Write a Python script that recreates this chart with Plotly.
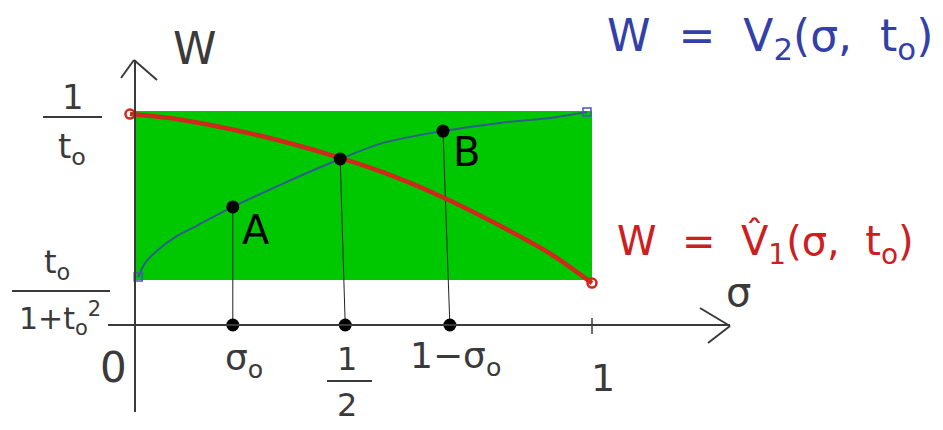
import plotly.graph_objects as go

# page pixels: the html body adds an 8 px offset, so the figure is drawn 8 px smaller
PAGE_W, PAGE_H, OFFSET = 943, 430, 8
X0_PX, X1_PX = 135, 592  # pixel columns of sigma = 0 and sigma = 1
Y0_PX, YS_PX = 325, 215  # pixel row of w = 0, pixels per unit of w

# red curve  w = V1^(sigma, t0)
sigma_red = [-0.011, 0.10, 0.274, 0.449, 0.58, 0.683, 0.80, 0.91, 1.0]
w_red = [0.981, 0.955, 0.880, 0.777, 0.680, 0.585, 0.460, 0.330, 0.195]

# blue curve  w = V2(sigma, t0)
sigma_blue = [0.007, 0.022, 0.050, 0.088, 0.138, 0.214, 0.317, 0.449, 0.543, 0.674, 0.799, 0.908, 0.989]
w_blue = [0.223, 0.288, 0.349, 0.409, 0.465, 0.549, 0.651, 0.772, 0.847, 0.902, 0.940, 0.963, 0.991]

# points A, crossing, B and their feet on the sigma axis
pt_sigma = [0.214, 0.449, 0.674]
pt_w = [0.549, 0.772, 0.902]
foot_sigma = [0.214, 0.460, 0.689]

# band of w between t0/(1+t0^2) and 1/t0
w_low, w_high = 0.209, 0.995

SCALE = X1_PX - X0_PX
INK = "#3a3a3a"
RED = "#d0281c"
BLUE = "#2f5e8c"
BLUE_TXT = "#3340a8"
RED_TXT = "#cc2020"
FONT = "DejaVu Sans"


def dx(px):
    return (px - X0_PX) / SCALE


def dy(py):
    return (Y0_PX - py) / YS_PX


def seg(x0, y0, x1, y1, color=INK, width=2):
    return dict(type="line", xref="x", yref="y", x0=dx(x0), y0=dy(y0),
                x1=dx(x1), y1=dy(y1), line=dict(color=color, width=width))


def label(px, py, text, size, color=INK):
    return dict(x=dx(px), y=dy(py), xref="x", yref="y", text=text,
                showarrow=False, font=dict(family=FONT, size=size, color=color))


fig = go.Figure()

# green band
fig.add_shape(type="rect", xref="x", yref="y", x0=0, x1=1, y0=w_low, y1=w_high,
              fillcolor="#00c800", line=dict(width=0), layer="below")

# drop lines from points to the axis
for s, w, f in zip(pt_sigma, pt_w, foot_sigma):
    fig.add_trace(go.Scatter(x=[s, f], y=[w, 0], mode="lines",
                             line=dict(color="#222222", width=1), hoverinfo="skip"))

fig.add_trace(go.Scatter(x=sigma_blue, y=w_blue, mode="lines",
                         line=dict(color=BLUE, width=2, shape="spline", smoothing=0.8)))
fig.add_trace(go.Scatter(x=sigma_red, y=w_red, mode="lines",
                         line=dict(color=RED, width=4.5, shape="spline", smoothing=0.8)))

fig.add_trace(go.Scatter(x=[sigma_red[0], sigma_red[-1]], y=[w_red[0], w_red[-1]],
                         mode="markers",
                         marker=dict(symbol="circle-open", size=9, color=RED,
                                     line=dict(width=2.5))))
fig.add_trace(go.Scatter(x=[sigma_blue[0], sigma_blue[-1]], y=[w_blue[0], w_blue[-1]],
                         mode="markers",
                         marker=dict(symbol="square-open", size=8, color="#4a55c0",
                                     line=dict(width=1.5))))

fig.add_trace(go.Scatter(x=pt_sigma + foot_sigma, y=pt_w + [0] * len(foot_sigma),
                         mode="markers", marker=dict(size=13, color="black")))

# hand drawn axes with arrow heads
shapes = [
    seg(108, 325, 730, 325),
    seg(700, 308, 730, 326),
    seg(730, 326, 708, 343),
    seg(592, 318, 592, 334, width=1.5),
    seg(135, 412, 135, 60),
    seg(121, 78, 134, 60),
    seg(134, 60, 157, 80),
    # fraction bars
    seg(43, 117, 102, 117),
    seg(12, 291, 110, 291),
    seg(327, 381, 372, 381),
]
for s in shapes:
    fig.add_shape(**s)

annotations = [
    label(195, 48, "W", 44),
    label(73, 97, "1", 34),
    label(72, 148, "t<sub>o</sub>", 34),
    label(57, 264, "t<sub>o</sub>", 32),
    label(60, 318, "1+t<sub>o</sub><sup>2</sup>", 30),
    label(113, 367, "0", 42),
    label(244, 360, "σ<sub>o</sub>", 36),
    label(347, 359, "1", 32),
    label(347, 405, "2", 32),
    label(455, 358, "1−σ<sub>o</sub>", 36),
    label(603, 378, "1", 38),
    label(738, 292, "σ", 40),
    label(256, 230, "A", 40, "black"),
    label(466, 152, "B", 40, "black"),
    label(770, 38, "W  =  V<sub>2</sub>(σ,  t<sub>o</sub>)", 44, BLUE_TXT),
    label(765, 244, "W  =  V\u0302<sub>1</sub>(σ,  t<sub>o</sub>)", 40, RED_TXT),
]

fig.update_layout(
    width=PAGE_W - OFFSET,
    height=PAGE_H - OFFSET,
    margin=dict(l=0, r=0, t=0, b=0),
    showlegend=False,
    plot_bgcolor="white",
    paper_bgcolor="white",
    annotations=annotations,
)
fig.update_xaxes(visible=False, range=[dx(OFFSET), dx(PAGE_W)])
fig.update_yaxes(visible=False, range=[dy(PAGE_H), dy(OFFSET)])

fig.write_html("out.html")
